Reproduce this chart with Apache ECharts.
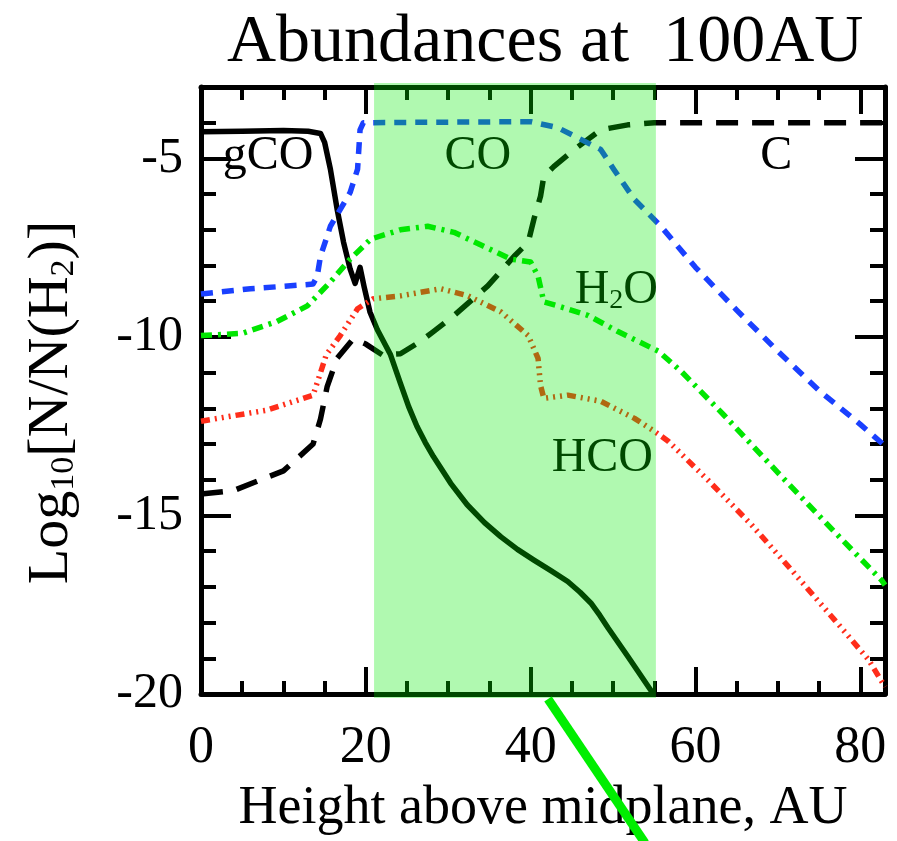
<!DOCTYPE html>
<html>
<head>
<meta charset="utf-8">
<script src="https://cdn.jsdelivr.net/npm/echarts@6/dist/echarts.min.js"></script>
<style>html,body{margin:0;padding:0;background:#fff}#c{width:897px;height:841px}</style>
</head>
<body>
<div id="c"></div>
<script>
// ---- data (height above midplane in AU, log10 abundance) ----
const xMin = 0, xMax = 83, yMin = -20, yMax = -3;
const xMajorTicks = [0, 20, 40, 60, 80];
const yMajorTicks = [-20, -15, -10, -5];

const gCO = [[0,-4.25],[5,-4.24],[10,-4.22],[13,-4.24],[14.5,-4.3],[15,-4.55],[15.7,-5.3],[16.5,-6.4],[17.3,-7.35],[18.1,-8.1],[18.7,-8.5],[19.3,-8.05],[19.8,-8.6],[20.5,-9.3],[21.4,-9.8],[23,-10.5],[24.2,-11.3],[25.2,-11.95],[26.2,-12.5],[27.2,-12.95],[28.2,-13.35],[30.3,-14.1],[32.3,-14.7],[34.4,-15.2],[36.4,-15.6],[38.4,-15.95],[40.4,-16.25],[42.5,-16.55],[44.5,-16.85],[46,-17.15],[47.3,-17.45],[48.4,-17.8],[49.4,-18.15],[51.8,-18.95],[54.6,-19.9],[55.2,-20.1]];

const C = [[0,-14.4],[4,-14.3],[10,-13.75],[13.6,-13.0],[14.5,-12.3],[15.3,-11.4],[16.5,-10.6],[18.5,-10.05],[20,-10.2],[22,-10.5],[24.2,-10.47],[26.6,-10.13],[28.2,-9.85],[30.7,-9.4],[34.8,-8.57],[38,-7.74],[39.7,-7.35],[40.4,-6.7],[41.2,-6.06],[41.6,-5.5],[42.8,-5.23],[45.3,-4.75],[48.5,-4.2],[51.8,-4.06],[55,-4.0],[83,-4.0]];

const CO = [[0,-8.8],[6,-8.65],[13.6,-8.52],[14.1,-8.3],[14.5,-7.74],[15.7,-6.9],[16.9,-6.43],[18.1,-5.95],[19,-5.3],[19.3,-4.2],[19.7,-4.0],[40,-3.97],[43.3,-4.14],[45.7,-4.42],[48.5,-4.75],[50.1,-5.31],[52.6,-6.15],[55.8,-6.9],[60,-8.05],[65,-9.25],[70,-10.4],[75,-11.5],[80,-12.45],[83,-13.05]];

const H2O = [[0,-9.96],[5,-9.9],[9.2,-9.57],[12.9,-9.13],[15.7,-8.46],[18.1,-7.82],[20.6,-7.26],[24.2,-7.0],[27.5,-6.9],[30.7,-7.07],[34.3,-7.46],[37.6,-7.82],[40,-7.9],[40.9,-8.3],[41.6,-9.02],[43.3,-9.13],[47,-9.4],[50.6,-9.85],[55.5,-10.4],[58.3,-10.97],[63.5,-12.2],[70,-13.8],[76,-15.25],[82.6,-16.82],[83,-16.95]];

const HCO = [[0,-12.36],[8,-12.05],[13.6,-11.63],[14.5,-11.0],[15.2,-10.5],[16.9,-9.96],[19,-9.21],[20.9,-8.93],[24.2,-8.85],[29.1,-8.65],[32.4,-8.85],[36.4,-9.3],[39.7,-9.96],[40.9,-10.6],[41.2,-11.36],[41.6,-11.72],[44.5,-11.63],[48.5,-11.8],[52.6,-12.28],[55,-12.64],[56.7,-12.92],[61.6,-14.03],[66.8,-15.26],[71.7,-16.54],[76.9,-17.93],[81,-19.04],[83,-19.8]];

const bandRange = [21, 55.2];

const labelNames = ['gCO', 'CO', 'C', 'H{s|2}O', 'HCO'];
const labelX = [8.15, 33.6, 69.8, 50.4, 48.7];
const labelY = [-4.95, -4.95, -4.95, -8.7, -13.4];

// ---- chart ----
const SERIF = '"Liberation Serif","DejaVu Serif",serif';
const chart = echarts.init(document.getElementById('c'), null, {renderer: 'canvas'});

function xAxisDef(pos, interval, len, showLine, showLabel, name) {
  return {
    type: 'value', min: xMin, max: xMax, interval: interval, position: pos,
    axisLine: {show: showLine, onZero: false, lineStyle: {color: '#000', width: 5}},
    axisTick: {show: true, inside: true, length: len, lineStyle: {color: '#000', width: 4}},
    axisLabel: {show: showLabel, margin: 28, fontSize: 52, fontFamily: SERIF, color: '#000', showMaxLabel: false},
    splitLine: {show: false},
    name: name || '', nameLocation: 'middle', nameGap: 88,
    nameTextStyle: {fontSize: 54, fontFamily: SERIF, color: '#000'}
  };
}
function yAxisDef(pos, interval, len, showLine, showLabel, name) {
  return {
    type: 'value', min: yMin, max: yMax, interval: interval, position: pos,
    axisLine: {show: showLine, onZero: false, lineStyle: {color: '#000', width: 5}},
    axisTick: {show: true, inside: true, length: len, lineStyle: {color: '#000', width: 4}},
    axisLabel: {show: showLabel, margin: 18, fontSize: 50, fontFamily: SERIF, color: '#000', showMaxLabel: false},
    splitLine: {show: false},
    name: name || '', nameLocation: 'middle', nameGap: 120, nameRotate: 90,
    nameTextStyle: {
      fontSize: 58, fontFamily: SERIF, color: '#000', lineHeight: 58, padding: [0, 24, 0, 0],
      rich: {s: {fontSize: 34, fontFamily: SERIF, color: '#000', lineHeight: 34, verticalAlign: 'bottom', padding: [20, 0, 0, 0]}}
    }
  };
}

function lineSeries(name, data, color, dash) {
  return {
    name: name, type: 'line', data: data, xAxisIndex: 0, yAxisIndex: 0,
    symbol: 'none', smooth: false, clip: true, z: 2,
    lineStyle: {color: color, width: 5.5, type: dash, cap: 'butt', join: 'round', opacity: 1}
  };
}

const option = {
  animation: false,
  backgroundColor: '#fff',
  title: {
    text: 'Abundances at  100AU', left: 222, top: 4,
    textStyle: {fontSize: 68, fontWeight: 'normal', fontFamily: SERIF, color: '#000'}
  },
  grid: {left: 201, right: 12, top: 87, bottom: 144},
  xAxis: [
    xAxisDef('bottom', 20, 27, true, true, 'Height above midplane, AU'),
    xAxisDef('top', 20, 27, true, false),
    xAxisDef('bottom', 5, 13, false, false),
    xAxisDef('top', 5, 13, false, false)
  ],
  yAxis: [
    yAxisDef('left', 5, 30, true, true, 'Log{s|10}[N/N(H{s|2})]'),
    yAxisDef('right', 5, 30, true, false),
    yAxisDef('left', 1, 15, false, false),
    yAxisDef('right', 1, 15, false, false)
  ],
  series: [
    lineSeries('gCO', gCO, '#000000', 'solid'),
    lineSeries('C', C, '#000000', [22, 14]),
    lineSeries('CO', CO, '#1a40ff', [12, 9]),
    lineSeries('H2O', H2O, '#00e600', [11, 6, 3, 6]),
    lineSeries('HCO+', HCO, '#ff2d1a', [9, 5, 2, 5, 2, 5, 2, 5]),
    {
      name: 'labels', type: 'scatter', xAxisIndex: 0, yAxisIndex: 0, z: 3,
      symbolSize: 0, silent: true,
      itemStyle: {opacity: 1},
      data: labelNames.map((n, i) => ({name: n, value: [labelX[i], labelY[i]]})),
      label: {
        show: true, position: 'inside', formatter: '{b}', opacity: 1,
        fontSize: 48, fontFamily: SERIF, color: '#000', lineHeight: 48,
        rich: {s: {fontSize: 28, fontFamily: SERIF, color: '#000', lineHeight: 28, verticalAlign: 'bottom', padding: [14, 0, 0, 0]}}
      }
    },
    {
      name: 'band', type: 'custom', xAxisIndex: 0, yAxisIndex: 0, z: 20, silent: true, clip: false,
      data: [bandRange],
      renderItem: function (params, api) {
        const p0 = api.coord([api.value(0), yMax]);
        const p1 = api.coord([api.value(1), yMin]);
        return {
          type: 'rect',
          shape: {x: p0[0], y: p0[1] - 4, width: p1[0] - p0[0], height: p1[1] - p0[1] + 8},
          style: {fill: 'rgba(0,235,0,0.31)'}
        };
      }
    }
  ],
  graphic: [
    {type: 'line', z: 100, shape: {x1: 548, y1: 699, x2: 645, y2: 843},
     style: {stroke: '#00ee00', lineWidth: 9}}
  ]
};
chart.setOption(option);
</script>
</body>
</html>
